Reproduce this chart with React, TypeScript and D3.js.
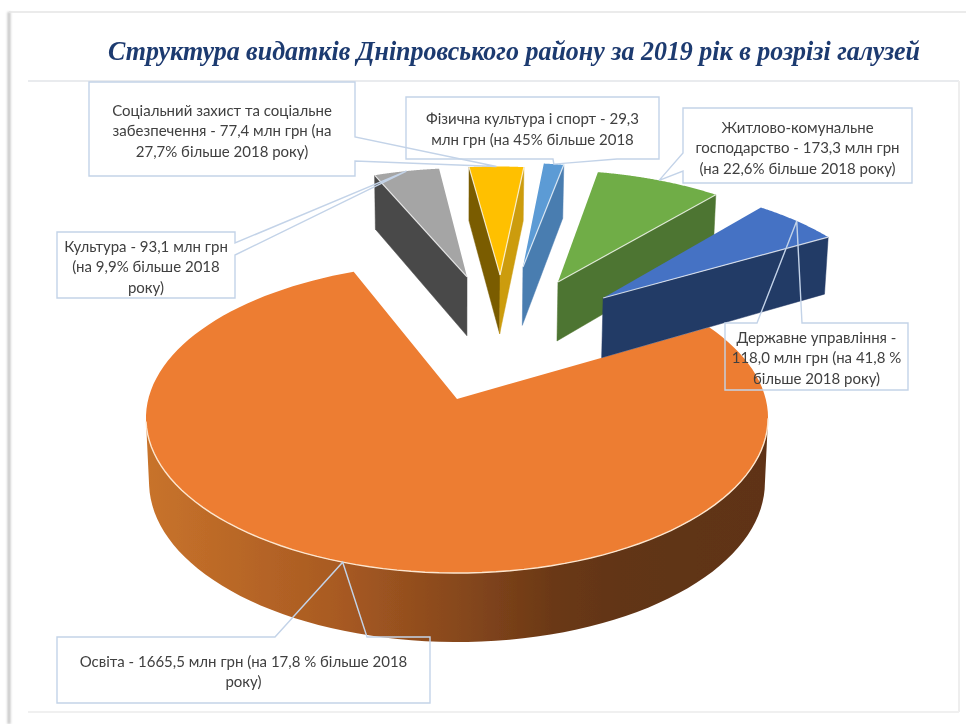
import React from "react";
import * as d3 from "d3";

const title = "Структура видатків Дніпровського району за 2019 рік в розрізі галузей";

// млн грн, clockwise from the big slice
const categories = ["Освіта", "Культура", "Соціальний захист", "Фізична культура", "Житлово-комунальне", "Державне управління"];
const values = [1665.5, 93.1, 77.4, 29.3, 173.3, 118.0];
const labels = [
  ["Освіта - 1665,5 млн грн (на 17,8 % більше 2018", "року)"],
  ["Культура - 93,1 млн грн", "(на 9,9% більше 2018", "року)"],
  ["Соціальний захист та соціальне", "забезпечення - 77,4 млн грн (на", "27,7% більше 2018 року)"],
  ["Фізична культура і спорт - 29,3", "млн грн (на 45% більше 2018"],
  ["Житлово-комунальне", "господарство - 173,3 млн грн", "(на 22,6% більше 2018 року)"],
  ["Державне управління -", "118,0 млн грн (на 41,8 %", "більше 2018 року)"],
];

const topColors = ["#ed7d31", "#a5a5a5", "#ffc000", "#5b9bd5", "#70ad47", "#4472c4"];
const startWallColors = ["#8a4a1c", "#4a4a4a", "#7a5c00", "#3f6a96", "#4e7530", "#223a66"];
const endWallColors = ["#8a4a1c", "#4a4a4a", "#cc9c10", "#4a7db0", "#4e7530", "#223a66"];

// how far each slice was pulled out of the pie, in pie radii (x right, y away from the viewer)
const pulls = [
  [0, 0],
  [0.036, 0.886],
  [0.155, 0.902],
  [0.239, 0.967],
  [0.361, 0.846],
  [0.515, 0.72],
];
// the pulled slices come out a bit smaller than the pie
const radii = [1, 0.97, 0.97, 0.94, 0.99, 1];

// label boxes: side the pointer leaves from (0 top, 1 right, 2 bottom, 3 left) and its two feet on that side
const callouts = [
  { x: 57, y: 637, w: 373, h: 66, side: 0, feet: [275, 367], cy: 672 },
  { x: 57, y: 232, w: 178, h: 66, side: 1, feet: [243, 255], cy: 267 },
  { x: 89, y: 82, w: 266, h: 94, side: 1, feet: [137, 161], cy: 131 },
  { x: 406, y: 97, w: 253, h: 62, side: 2, feet: [617, 553], cy: 129.5 },
  { x: 683, y: 108, w: 229, h: 75, side: 3, feet: [171, 153], cy: 148 },
  { x: 725, y: 323, w: 183, h: 67, side: 0, feet: [757, 802], cy: 358 },
];

const width = 966;
const height = 724;

// perspective of the pie plane
const cx = 457;
const cy = 399;
const radiusX = 308.7;
const radiusY = 152.7;
const persp = 0.1225;
const bottomShrink = 0.99;

const project = (px: number, py: number, bottom = false): [number, number] => {
  const w = 1 + persp * py;
  const sx = (radiusX * px) / w;
  const sy = (-radiusY * py) / w;
  return bottom ? [cx + sx * bottomShrink, cy + sy + (107.6 - 44 * w)] : [cx + sx, cy + sy];
};

const startAngle = (60.1 * Math.PI) / 180;
const pieLayout = d3
  .pie<number>()
  .sort(null)
  .startAngle(startAngle)
  .endAngle(startAngle + Math.PI * 2);
const arcs = pieLayout(values);

const line = d3.line();
const closed = d3.line().curve(d3.curveLinearClosed);

const rimPoint = (i: number, angle: number): [number, number] => [
  pulls[i][0] + radii[i] * Math.sin(angle),
  pulls[i][1] + radii[i] * Math.cos(angle),
];

const slices = arcs.map((a, i) => {
  const apex = pulls[i] as [number, number];
  const steps = d3.range(0, 121).map((s) => a.startAngle + ((a.endAngle - a.startAngle) * s) / 120);
  const rim = steps.map((t) => rimPoint(i, t));
  const mid = (a.startAngle + a.endAngle) / 2;
  const tip = project(...rimPoint(i, mid));
  const apexTop = project(apex[0], apex[1]);

  // a radial wall shows only if extruding downwards moves away from the slice's own top face
  const wall = (t: number, color: string) => {
    const end = rimPoint(i, t);
    const p1 = project(end[0], end[1]);
    const ex = p1[0] - apexTop[0];
    const ey = p1[1] - apexTop[1];
    let nx = -ey;
    let ny = ex;
    if (nx * (tip[0] - apexTop[0]) + ny * (tip[1] - apexTop[1]) > 0) {
      nx = -nx;
      ny = -ny;
    }
    if (ny <= 0) return null;
    return {
      color,
      edge: line([apexTop, p1]) as string,
      d: closed([apexTop, p1, project(end[0], end[1], true), project(apex[0], apex[1], true)]) as string,
    };
  };

  const walls = [wall(a.startAngle, startWallColors[i]), wall(a.endAngle, endWallColors[i])].filter(Boolean) as {
    color: string;
    edge: string;
    d: string;
  }[];

  // outer wall, only the near part of the rim faces the viewer
  const near = steps.filter((t) => {
    const deg = ((t * 180) / Math.PI) % 360;
    return deg > 97 && deg < 263;
  });
  const nearTop = near.map((t) => project(...rimPoint(i, t)));
  const nearBottom = near.map((t) => {
    const p = rimPoint(i, t);
    return project(p[0], p[1], true);
  });

  return {
    color: topColors[i],
    top: closed([apexTop, ...rim.map((p) => project(p[0], p[1]))]) as string,
    walls,
    outer: near.length ? (closed([...nearTop, ...nearBottom.slice().reverse()]) as string) : null,
    rimLine: near.length ? (line(nearTop) as string) : null,
    tip,
  };
});

const calloutPath = (i: number) => {
  const c = callouts[i];
  const tip = slices[i].tip;
  const corners: [number, number][] = [
    [c.x, c.y],
    [c.x + c.w, c.y],
    [c.x + c.w, c.y + c.h],
    [c.x, c.y + c.h],
  ];
  const foot = (f: number): [number, number] => {
    if (c.side === 0) return [f, c.y];
    if (c.side === 1) return [c.x + c.w, f];
    if (c.side === 2) return [f, c.y + c.h];
    return [c.x, f];
  };
  const pts = [...corners];
  pts.splice(c.side + 1, 0, foot(c.feet[0]), tip, foot(c.feet[1]));
  return closed(pts) as string;
};

const App = () => {
  return (
    <svg
      width={width}
      height={height}
      viewBox={`0 0 ${width} ${height}`}
      style={{ position: "absolute", left: 0, top: 0, display: "block", background: "#fff" }}
    >
      <defs>
        <linearGradient id="rimShade" gradientUnits="userSpaceOnUse" x1={146} x2={767} y1={0} y2={0}>
          <stop offset="0" stopColor="#c8732b" />
          <stop offset="0.31" stopColor="#a85a22" />
          <stop offset="0.52" stopColor="#84461c" />
          <stop offset="0.66" stopColor="#6a3816" />
          <stop offset="0.76" stopColor="#623515" />
          <stop offset="1" stopColor="#5f3315" />
        </linearGradient>
        <filter id="shadow" x="-500%" y="-5%" width="1100%" height="110%" filterUnits="objectBoundingBox">
          <feGaussianBlur stdDeviation="1.2" />
        </filter>
        {/* the source is a slightly soft screenshot */}
        <filter id="screen" filterUnits="userSpaceOnUse" x={0} y={0} width={width} height={height}>
          <feGaussianBlur stdDeviation="0.45" />
        </filter>
      </defs>

      {/* page frame */}
      <rect x={7.5} y={12} width={3} height={712} fill="#c4c4c4" filter="url(#shadow)" />
      <g filter="url(#screen)">
        <path d="M9,12H966" stroke="#e4e4e4" strokeWidth={1.5} fill="none" />
        <path d="M28,81H959" stroke="#e2e5e9" strokeWidth={1.5} fill="none" />
        <path d="M959,81V712" stroke="#eeeeee" strokeWidth={2} fill="none" />
        <path d="M28,712H959" stroke="#f0f0f0" strokeWidth={2} fill="none" />

        {/* title glyphs are taller and narrower than the font, so stretch it upwards */}
        <text
          transform="translate(108,59.5) scale(1,1.09)"
          textLength={812}
          lengthAdjust="spacingAndGlyphs"
          fontFamily="'Liberation Serif', serif"
          fontWeight="bold"
          fontStyle="italic"
          fontSize={25}
          fill="#1f3a70"
        >
          {title}
        </text>

        {slices.map((s, i) => (
          <g key={categories[i]}>
            {s.outer && <path d={s.outer} fill="url(#rimShade)" />}
            {s.walls.map((w, k) => (
              <path key={k} d={w.d} fill={w.color} stroke={w.color} strokeWidth={0.5} />
            ))}
            <path d={s.top} fill={s.color} />
            {s.walls.map((w, k) => (
              <path key={k} d={w.edge} fill="none" stroke="#fff" strokeOpacity={0.75} strokeWidth={1.2} />
            ))}
            {s.rimLine && <path d={s.rimLine} fill="none" stroke="#fde6cf" strokeWidth={1.4} />}
          </g>
        ))}

        {callouts.map((c, i) => (
          <g key={categories[i]}>
            <path d={calloutPath(i)} fill="none" stroke="#c3d3e8" strokeWidth={1.4} strokeLinejoin="miter" />
            <text
              textAnchor="middle"
              fontFamily="Lato, 'Noto Sans', sans-serif"
              fontSize={15}
              fill="#404040"
            >
              {labels[i].map((t, k) => (
                <tspan key={k} x={c.x + c.w / 2} y={c.cy + 5 + (k - (labels[i].length - 1) / 2) * 20.5}>
                  {t}
                </tspan>
              ))}
            </text>
          </g>
        ))}
      </g>
    </svg>
  );
};

export default App;
